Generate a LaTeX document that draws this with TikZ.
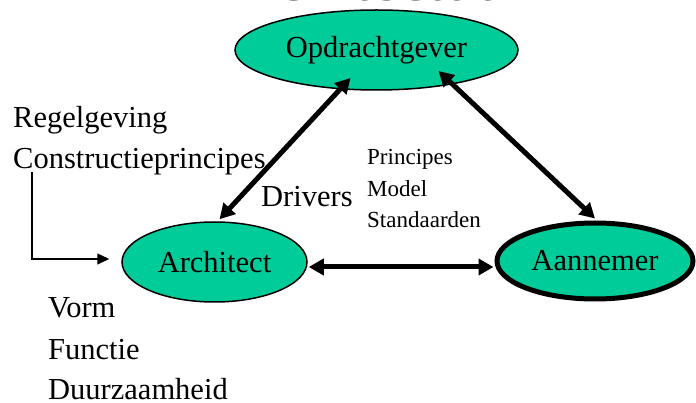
\documentclass[tikz,border=0pt]{standalone}
\usepackage{fontspec}
\setmainfont{Liberation Serif}
\usetikzlibrary{shapes.geometric,arrows.meta,calc}
\definecolor{teal1}{RGB}{0,204,153}
\tikzset{
  actor/.style={ellipse, draw=black, line width=1.5pt, fill=teal1, inner sep=0pt,
    font=\fontsize{30.5}{36}\selectfont},
  bigarrow/.style={line width=5pt, {Triangle[length=15pt,width=16pt]}-{Triangle[length=15pt,width=16pt]}},
  thinarrow/.style={line width=1.3pt, -{Triangle[length=12pt,width=11pt]}},
  lbl/.style={anchor=base west, inner sep=0pt, font=\fontsize{30.5}{36}\selectfont},
  small/.style={anchor=base west, inner sep=0pt, font=\fontsize{23}{28}\selectfont},
}
\begin{document}
\begin{tikzpicture}[x=1pt,y=-1pt]
\useasboundingbox (0,0) rectangle (696,403);
% title, cut off at the top edge: only the bottom of its letters shows
\begin{scope}
\clip (0,0) rectangle (696,4);
\node[anchor=base, inner sep=0pt, text=black!70, font=\fontsize{63}{70}\selectfont] (title) at (370,1) {Architectuur};
\end{scope}
\node[actor, minimum width=283pt, minimum height=80pt] (opd) at (376.5,50) {Opdrachtgever};
\node[actor, minimum width=185pt, minimum height=80pt] (arch) at (214.5,262) {Architect};
\node[actor, line width=5pt, minimum width=196pt, minimum height=76pt] (aan) at (595,261) {Aannemer};

\node[lbl] (reg) at (13,128) {Regelgeving};
\node[lbl] (con) at (13,169) {Constructieprincipes};
\node[lbl] (drv) at (261,207) {Drivers};
\node[small] (pri) at (367,165) {Principes};
\node[small] (mod) at (367,197) {Model};
\node[small] (std) at (367,228) {Standaarden};
\node[lbl] (vorm) at (48,317) {Vorm};
\node[lbl] (fun) at (48,359) {Functie};
\node[lbl] (duu) at (48,399) {Duurzaamheid};

\coordinate (cstart) at (32,172);
\draw[bigarrow] ($(opd.center)+(-26,28)$) -- ($(arch.north)+(5,-2)$);
\draw[bigarrow] ($(opd.center)+(62,21)$) -- ($(aan.north)+(0,-2)$);
\draw[bigarrow] ($(arch.east)+(1,5)$) -- ($(aan.west)+(-1,6)$);
\draw[thinarrow] (cstart) |- ($(arch.west)+(-12,-3)$);
\end{tikzpicture}
\end{document}
